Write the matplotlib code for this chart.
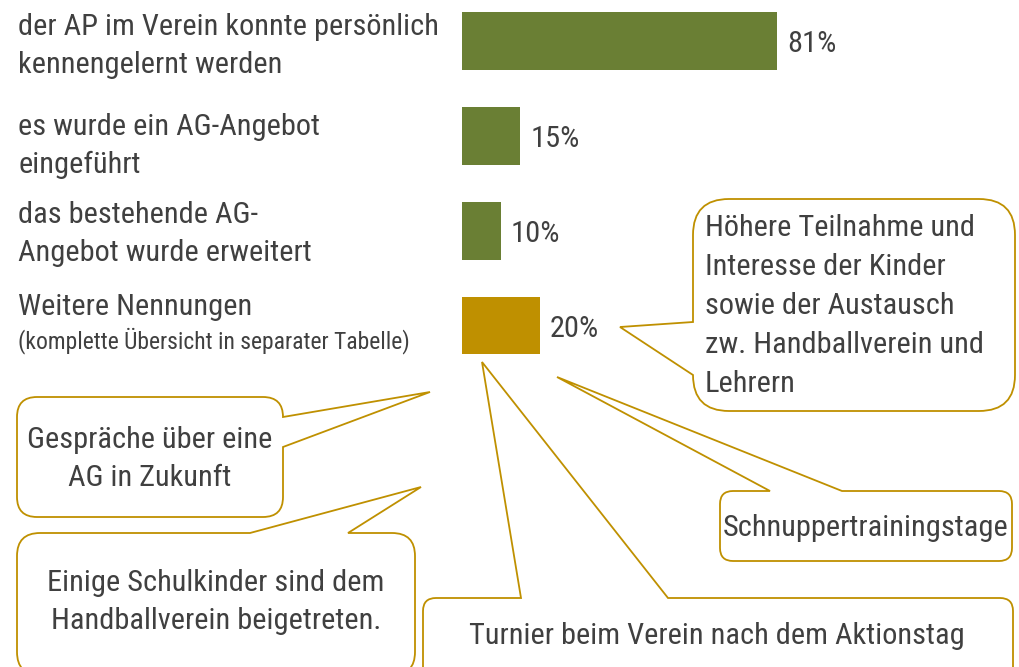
import numpy as np
import matplotlib
matplotlib.use("Agg")
import matplotlib.pyplot as plt
from matplotlib.path import Path
from matplotlib.patches import PathPatch
import logging

logging.getLogger("matplotlib.font_manager").setLevel(logging.ERROR)
plt.rcParams['font.family'] = ['Liberation Sans Narrow', 'Arial Narrow', 'Roboto Condensed',
                               'Archivo Narrow', 'Liberation Sans', 'DejaVu Sans']

# data
categories = ["der AP im Verein konnte persönlich\nkennengelernt werden",
              "es wurde ein AG-Angebot\neingeführt",
              "das bestehende AG-\nAngebot wurde erweitert",
              "Weitere Nennungen"]
sub_note = "(komplette Übersicht in separater Tabelle)"
values = [81, 15, 10, 20]
value_labels = ["81%", "15%", "10%", "20%"]
bar_colors = ["#6A7F34", "#6A7F34", "#6A7F34", "#BF9000"]

notes = ["Höhere Teilnahme und\nInteresse der Kinder\nsowie der Austausch\nzw. Handballverein und\nLehrern",
         "Gespräche über eine\nAG in Zukunft",
         "Einige Schulkinder sind dem\nHandballverein beigetreten.",
         "Schnuppertrainingstage",
         "Turnier beim Verein nach dem Aktionstag"]

txt = "#404040"
gold = "#BF9000"

W, H = 1019, 667
fig = plt.figure(figsize=(W / 100, H / 100), dpi=100, facecolor="white")
rend = fig.canvas.get_renderer()


def fit_size(s, target_px, base=20.0):
    t = fig.text(0, 0, s, fontsize=base)
    w = t.get_window_extent(rend).width
    t.remove()
    return base * target_px / w


fs = fit_size("Schnuppertrainingstage", 284)
fs_small = fit_size(sub_note, 392)

# overlay in pixel coords for the speech bubbles
ov = fig.add_axes([0, 0, 1, 1], zorder=0)
ov.set_xlim(0, W)
ov.set_ylim(H, 0)
ov.axis("off")

# bar axes
top_px, bot_px = 3.07, 382.4
ax = fig.add_axes([462 / W, (H - bot_px) / H, 389 / W, (bot_px - top_px) / H], zorder=1)
ax.patch.set_alpha(0)
y = np.arange(len(values))
ax.barh(y, values, height=0.61, color=bar_colors)
ax.set_xlim(0, 100)
ax.set_ylim(3.6, -0.4)
ax.axis("off")

for i, v in enumerate(values):
    ax.annotate(value_labels[i], (v, i), xytext=(7, -2.5), textcoords="offset points",
                va="center", ha="left", fontsize=fs, color=txt)

# category labels
offs = [-3.5, -7, -2.5]
for i in range(3):
    ax.annotate(categories[i], xy=(18, i), xycoords=("figure pixels", "data"),
                xytext=(0, offs[i]), textcoords="offset points",
                va="center", ha="left", fontsize=fs, color=txt, linespacing=1.44,
                annotation_clip=False)
ax.annotate(categories[3], xy=(18, 3), xycoords=("figure pixels", "data"),
            xytext=(0, 13.5), textcoords="offset points",
            va="center", ha="left", fontsize=fs, color=txt, annotation_clip=False)
ax.annotate(sub_note, xy=(18, 3), xycoords=("figure pixels", "data"),
            xytext=(0, -11), textcoords="offset points",
            va="center", ha="left", fontsize=fs_small, color=txt, annotation_clip=False)


def bubble(x0, y0, x1, y1, r, side, a, b, tip):
    v = [(x0 + r, y0)]
    c = [Path.MOVETO]
    if side == "top":
        v += [(a, y0), tip, (b, y0)]
        c += [Path.LINETO] * 3
    v += [(x1 - r, y0), (x1, y0), (x1, y0 + r)]
    c += [Path.LINETO, Path.CURVE3, Path.CURVE3]
    if side == "right":
        v += [(x1, a), tip, (x1, b)]
        c += [Path.LINETO] * 3
    v += [(x1, y1 - r), (x1, y1), (x1 - r, y1)]
    c += [Path.LINETO, Path.CURVE3, Path.CURVE3]
    v += [(x0 + r, y1), (x0, y1), (x0, y1 - r)]
    c += [Path.LINETO, Path.CURVE3, Path.CURVE3]
    if side == "left":
        v += [(x0, b), tip, (x0, a)]
        c += [Path.LINETO] * 3
    v += [(x0, y0 + r), (x0, y0), (x0 + r, y0), (x0 + r, y0)]
    c += [Path.LINETO, Path.CURVE3, Path.CURVE3, Path.CLOSEPOLY]
    ov.add_patch(PathPatch(Path(v, c), facecolor="white", edgecolor=gold, lw=1.3))


bubble(693, 199, 1015, 411, 36, "left", 322, 375, (620, 327))
bubble(17, 397, 283, 517, 20, "right", 417, 447, (430, 392))
bubble(17, 533, 415, 675, 23, "top", 250, 348, (421, 487))
bubble(720, 491, 1012, 561, 13, "top", 770, 842, (557, 377))
bubble(423, 598, 1013, 680, 13, "top", 521, 668, (482, 362))

ov.text(705, 306, notes[0], ha="left", va="center", fontsize=fs, color=txt, linespacing=1.5)
ov.text(150, 459, notes[1], ha="center", va="center", fontsize=fs, color=txt, linespacing=1.5)
ov.text(216, 602, notes[2], ha="center", va="center", fontsize=fs, color=txt, linespacing=1.49)
ov.text(866, 528, notes[3], ha="center", va="center", fontsize=fs, color=txt)
ov.text(717, 636, notes[4], ha="center", va="center", fontsize=fs, color=txt)

fig.savefig("out.png", dpi=100, facecolor="white")
